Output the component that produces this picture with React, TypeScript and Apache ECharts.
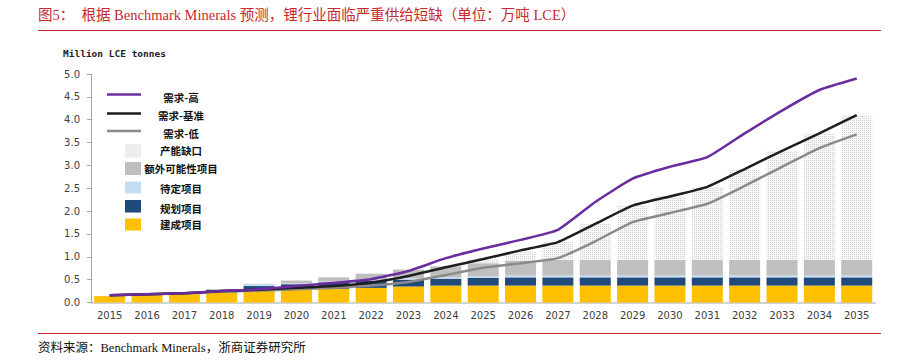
import React, { useEffect, useRef } from "react";
import * as echarts from "echarts";

const years = ["2015","2016","2017","2018","2019","2020","2021","2022","2023","2024","2025","2026","2027","2028","2029","2030","2031","2032","2033","2034","2035"];
const built = [0.14,0.17,0.19,0.22,0.26,0.28,0.30,0.32,0.35,0.37,0.37,0.37,0.37,0.37,0.37,0.37,0.37,0.37,0.37,0.37,0.37];
const planned = [0,0,0,0.06,0.10,0.12,0.14,0.15,0.15,0.15,0.17,0.18,0.18,0.18,0.18,0.18,0.18,0.18,0.18,0.18,0.18];
const pending = [0,0,0,0,0.04,0.02,0.02,0.03,0.03,0.03,0.03,0.04,0.04,0.04,0.04,0.04,0.04,0.04,0.04,0.04,0.04];
const extra = [0,0,0,0,0.01,0.06,0.09,0.13,0.19,0.24,0.29,0.32,0.34,0.34,0.34,0.34,0.34,0.34,0.34,0.34,0.34];
const gap = [0,0,0,0,0,0,0,0,0,0,0.09,0.21,0.39,0.79,1.19,1.39,1.60,1.99,2.39,2.77,3.17];
const demandHigh = [0.16,0.18,0.20,0.25,0.29,0.36,0.43,0.51,0.69,0.97,1.18,1.37,1.59,2.20,2.71,2.97,3.18,3.70,4.20,4.65,4.90];
const demandBase = [0.16,0.18,0.20,0.25,0.28,0.32,0.36,0.44,0.58,0.77,0.95,1.14,1.32,1.72,2.12,2.32,2.53,2.92,3.32,3.70,4.10];
const demandLow = [0.16,0.18,0.20,0.24,0.26,0.29,0.32,0.37,0.45,0.60,0.76,0.86,0.97,1.34,1.76,1.96,2.16,2.55,2.97,3.38,3.68];

const titleText = "图5：  根据 Benchmark Minerals 预测，锂行业面临严重供给短缺（单位：万吨 LCE）";
const sourceText = "资料来源：Benchmark Minerals，浙商证券研究所";
const unitText = "Million LCE tonnes";
const legendNames = ["需求-高","需求-基准","需求-低","产能缺口","额外可能性项目","待定项目","规划项目","建成项目"];

const C_HIGH = "#6A2C9F";
const C_BASE = "#1E1E1E";
const C_LOW = "#8A8A8A";
const C_EXTRA = "#BFBFBF";
const C_PEND = "#C5DCF5";
const C_PLAN = "#1F4A7A";
const C_BUILT = "#FFC000";
const RED = "#C8282C";
const SERIF = "'Liberation Serif','Noto Sans CJK SC',serif";
const CJK = "'Noto Sans CJK SC',sans-serif";

export default function App() {
  const ref = useRef<HTMLDivElement>(null);
  useEffect(() => {
    if (!ref.current) return;
    const chart = echarts.init(ref.current, undefined, { renderer: "svg" });

    const graphics: any[] = [];
    graphics.push({ type: "text", left: 38, top: 8, style: { text: titleText, fill: RED, font: `14.5px ${SERIF}` } });
    graphics.push({ type: "line", shape: { x1: 38, y1: 30.5, x2: 881, y2: 30.5 }, style: { stroke: RED, lineWidth: 1 } });
    graphics.push({ type: "line", shape: { x1: 38, y1: 333.5, x2: 881, y2: 333.5 }, style: { stroke: RED, lineWidth: 1 } });
    graphics.push({ type: "text", left: 38, top: 342, style: { text: sourceText, fill: "#111", font: `12.5px ${SERIF}` } });
    graphics.push({ type: "text", left: 63, top: 48, style: { text: unitText, fill: "#222", font: `bold 9.5px 'DejaVu Sans Mono',monospace` } });

    // legend
    const lineYs = [94.5, 113.5, 131];
    const lineColors = [C_HIGH, C_BASE, C_LOW];
    const textYs = [97, 115, 133, 150, 168, 188, 208, 224];
    for (let i = 0; i < 3; i++) {
      graphics.push({ type: "line", shape: { x1: 107, y1: lineYs[i], x2: 141, y2: lineYs[i] }, style: { stroke: lineColors[i], lineWidth: 2.5 } });
    }
    // dotted icon
    graphics.push({ type: "rect", shape: { x: 125, y: 144, width: 16, height: 13 }, style: { fill: "#f6f6f6" } });
    for (let yy = 144.5; yy < 157; yy += 2) {
      for (let xx = 125.5; xx < 141; xx += 2) {
        graphics.push({ type: "rect", shape: { x: xx, y: yy, width: 1, height: 1 }, style: { fill: "#d2d2d2" } });
      }
    }
    const sq = [
      { y: 162, h: 13, c: C_EXTRA },
      { y: 181.5, h: 12, c: C_PEND },
      { y: 200, h: 12.5, c: C_PLAN },
      { y: 218.5, h: 12, c: C_BUILT },
    ];
    sq.forEach((s) => graphics.push({ type: "rect", shape: { x: 125, y: s.y, width: 16, height: s.h }, style: { fill: s.c } }));
    legendNames.forEach((n, i) => {
      graphics.push({
        type: "text",
        x: 181,
        y: textYs[i],
        style: { text: n, fill: "#111", font: `bold 10.5px ${CJK}`, align: "center", verticalAlign: "middle" },
      });
    });

    const barCommon = { type: "bar", stack: "supply", barCategoryGap: "17%", silent: true };
    const lineCommon = { type: "line", showSymbol: false, symbol: "none", smooth: 0.15, silent: true };

    chart.setOption({
      animation: false,
      backgroundColor: "#ffffff",
      grid: { left: 91, right: 34.6, top: 74, bottom: 59.5 },
      xAxis: {
        type: "category",
        data: years,
        axisLine: { show: true, lineStyle: { color: "#c4c4c4", width: 1.5 } },
        axisTick: { show: false },
        axisLabel: { color: "#404040", fontFamily: "'DejaVu Sans',sans-serif", fontSize: 10, margin: 8 },
      },
      yAxis: {
        type: "value",
        min: 0,
        max: 5,
        interval: 0.5,
        axisLine: { show: true, lineStyle: { color: "#a6a6a6", width: 1 } },
        axisTick: { show: true, length: 4, lineStyle: { color: "#a6a6a6" } },
        splitLine: { show: false },
        axisLabel: {
          color: "#404040",
          fontFamily: "'DejaVu Sans',sans-serif",
          fontSize: 10,
          margin: 11,
          formatter: (v: number) => v.toFixed(1),
        },
      },
      series: [
        { ...barCommon, name: "建成项目", data: built, itemStyle: { color: C_BUILT } },
        { ...barCommon, name: "规划项目", data: planned, itemStyle: { color: C_PLAN } },
        { ...barCommon, name: "待定项目", data: pending, itemStyle: { color: C_PEND } },
        { ...barCommon, name: "额外可能性项目", data: extra, itemStyle: { color: C_EXTRA } },
        {
          ...barCommon,
          name: "产能缺口",
          data: gap,
          itemStyle: {
            color: "#f7f7f7",
            decal: { symbol: "rect", symbolSize: 1, color: "#d4d4d4", dashArrayX: [1, 1], dashArrayY: [1, 1], rotation: 0 },
          },
        },
        { ...lineCommon, name: "需求-低", data: demandLow, lineStyle: { color: C_LOW, width: 2.5 }, z: 3 },
        { ...lineCommon, name: "需求-基准", data: demandBase, lineStyle: { color: C_BASE, width: 2.5 }, z: 4 },
        { ...lineCommon, name: "需求-高", data: demandHigh, lineStyle: { color: C_HIGH, width: 2.5 }, z: 5 },
      ],
      graphic: graphics,
    });
    return () => chart.dispose();
  }, []);
  return (
    <div
      ref={ref}
      style={{ position: "fixed", left: 0, top: 0, width: 910, height: 362, background: "#fff" }}
    />
  );
}
